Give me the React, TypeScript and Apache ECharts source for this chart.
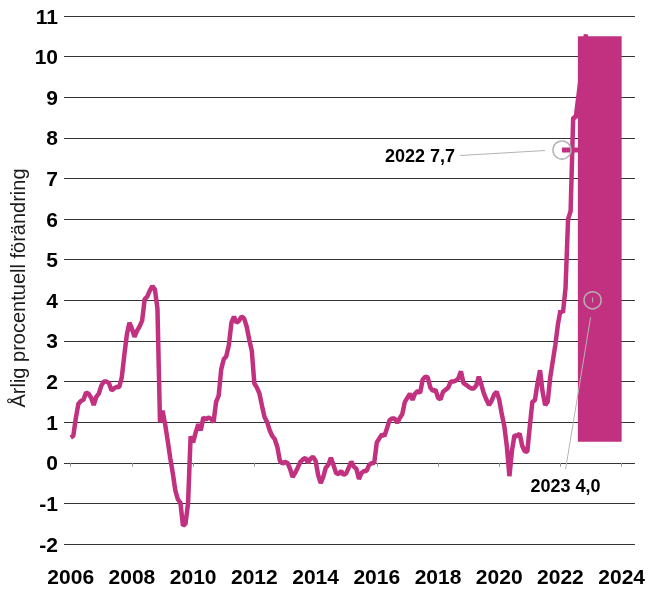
import React, { useEffect, useRef } from "react";
import * as echarts from "echarts";

// Monthly annual % change, starting January 2006
const START_YEAR = 2006;
const inflation = [
  // 2006
  0.62, 0.66, 1.1, 1.45, 1.52, 1.55, 1.73, 1.7, 1.6, 1.42, 1.62, 1.7,
  // 2007
  1.9, 2.0, 2.0, 1.96, 1.78, 1.83, 1.87, 1.86, 2.1, 2.65, 3.15, 3.45,
  // 2008
  3.3, 3.1, 3.25, 3.36, 3.5, 4.03, 4.09, 4.24, 4.35, 4.27, 3.8, 1.0,
  // 2009
  1.28, 0.95, 0.55, 0.12, -0.25, -0.68, -0.9, -0.98, -1.55, -1.5, -1.0, 0.65,
  // 2010
  0.5, 0.75, 0.95, 0.8, 1.12, 1.06, 1.12, 1.08, 1.0, 1.5, 1.65, 2.3,
  // 2011
  2.55, 2.62, 2.9, 3.45, 3.6, 3.45, 3.5, 3.6, 3.55, 3.35, 3.03, 2.75,
  // 2012
  1.95, 1.85, 1.7, 1.4, 1.12, 1.0, 0.8, 0.66, 0.58, 0.39, 0.05, -0.02,
  // 2013
  0.02, 0.0, -0.15, -0.35, -0.25, -0.12, 0.02, 0.08, 0.12, 0.0, 0.1, 0.15,
  // 2014
  0.05, -0.3, -0.5, -0.35, -0.12, -0.05, 0.12, -0.05, -0.25, -0.28, -0.2, -0.3,
  // 2015
  -0.26, -0.12, 0.03, -0.1, -0.15, -0.4, -0.25, -0.2, -0.2, -0.05, -0.01, 0.0,
  // 2016
  0.5, 0.6, 0.7, 0.66, 0.85, 1.05, 1.09, 1.09, 0.98, 1.1, 1.2, 1.5,
  // 2017
  1.6, 1.7, 1.55, 1.7, 1.77, 1.72, 2.05, 2.12, 2.1, 1.85, 1.77, 1.8,
  // 2018
  1.6, 1.56, 1.75, 1.8, 1.85, 2.0, 2.0, 2.02, 2.08, 2.25, 1.96, 1.92,
  // 2019
  1.87, 1.83, 1.83, 1.9, 2.12, 1.92, 1.7, 1.55, 1.42, 1.52, 1.68, 1.75,
  // 2020
  1.55, 1.2, 0.9, 0.4, -0.33, 0.3, 0.68, 0.65, 0.72, 0.42, 0.28, 0.27,
  // 2021
  0.9, 1.5, 1.54, 1.95, 2.28, 1.75, 1.42, 1.5, 2.1, 2.5, 2.9, 3.4,
  // 2022
  3.75, 3.7, 4.3, 6.0, 6.2, 8.5, 8.5, 9.0, 9.5, 10.0, 10.55,
];

const yearTicks = [2006, 2008, 2010, 2012, 2014, 2016, 2018, 2020, 2022, 2024];

// Forecast range: [x start, x end, low, high]
const forecastBand = [[2022.57, 2024.0, 0.52, 10.5]];

// Annual averages
const annualYears = [2022, 2023];
const annualValues = [7.7, 4.0];
const annualLabels = ["2022 7,7", "2023 4,0"];

const PINK = "#C1317F";
const FONT = 'Arial, "Liberation Sans", sans-serif';

export default function App() {
  const ref = useRef<HTMLDivElement>(null);

  useEffect(() => {
    if (!ref.current) return;
    const chart = echarts.init(ref.current, null, { renderer: "svg" });

    const option: any = {
      animation: false,
      grid: { left: 64, right: 13, top: 16, bottom: 45 },
      xAxis: {
        type: "value",
        min: 2005.78,
        max: 2024.434,
        offset: 13,
        axisLine: { show: false },
        splitLine: { show: false },
        axisTick: {
          show: true,
          length: 4,
          customValues: yearTicks,
          lineStyle: { color: "#999", width: 1 },
        },
        axisLabel: {
          customValues: yearTicks,
          margin: 9,
          fontSize: 21,
          fontWeight: "bold",
          fontFamily: FONT,
          color: "#000",
          formatter: (v: number) => String(Math.round(v)),
        },
      },
      yAxis: {
        type: "value",
        min: -2,
        max: 11,
        interval: 1,
        axisLine: { show: false },
        axisTick: { show: false },
        axisLabel: {
          margin: 6,
          fontSize: 21,
          fontWeight: "bold",
          fontFamily: FONT,
          color: "#000",
        },
        splitLine: { show: true, lineStyle: { color: "#333", width: 1 } },
      },
      series: [
        {
          type: "line",
          data: inflation.map((v, i) => [START_YEAR + i / 12, v]),
          showSymbol: false,
          symbol: "none",
          lineStyle: { color: PINK, width: 4.5 },
          z: 2,
        },
        {
          type: "line",
          data: [
            [annualYears[0] + 0.05, annualValues[0]],
            [annualYears[0] + 1, annualValues[0]],
          ],
          showSymbol: false,
          symbol: "none",
          lineStyle: { color: PINK, width: 5 },
          z: 3,
        },
        {
          type: "custom",
          data: forecastBand,
          encode: { x: [0, 1], y: [2, 3] },
          z: 4,
          renderItem: (params: any, api: any) => {
            const p1 = api.coord([api.value(0), api.value(3)]);
            const p2 = api.coord([api.value(1), api.value(2)]);
            return {
              type: "rect",
              shape: { x: p1[0], y: p1[1], width: p2[0] - p1[0], height: p2[1] - p1[1] },
              style: { fill: PINK },
            };
          },
        },
      ],
    };
    chart.setOption(option);

    const c0 = chart.convertToPixel({ gridIndex: 0 }, [annualYears[0] + 0.05, annualValues[0]]);
    const c1 = chart.convertToPixel({ gridIndex: 0 }, [annualYears[1] + 0.05, annualValues[1]]);
    const gray = "#b3b3b3";

    chart.setOption({
      graphic: [
        {
          type: "text",
          x: 18,
          y: 288,
          rotation: Math.PI / 2,
          style: {
            text: "Årlig procentuell förändring",
            fontSize: 20,
            fontFamily: FONT,
            fill: "#1a1a1a",
            textAlign: "center",
            textVerticalAlign: "middle",
          },
        },
        {
          type: "circle",
          shape: { cx: c0[0], cy: c0[1], r: 9 },
          style: { fill: "none", stroke: gray, lineWidth: 1.5 },
          z: 100,
        },
        {
          type: "line",
          shape: { x1: c0[0] - 102, y1: c0[1] + 5.5, x2: c0[0] - 17, y2: c0[1] + 0.5 },
          style: { stroke: gray, lineWidth: 1 },
          z: 100,
        },
        {
          type: "text",
          x: c0[0] - 107,
          y: c0[1] + 6,
          style: {
            text: annualLabels[0],
            fontSize: 18,
            fontWeight: "bold",
            fontFamily: FONT,
            fill: "#000",
            textAlign: "right",
            textVerticalAlign: "middle",
          },
          z: 100,
        },
        {
          type: "circle",
          shape: { cx: c1[0], cy: c1[1], r: 8.5 },
          style: { fill: "none", stroke: gray, lineWidth: 1.5 },
          z: 100,
        },
        {
          type: "line",
          shape: { x1: c1[0], y1: c1[1] - 3, x2: c1[0], y2: c1[1] + 2 },
          style: { stroke: gray, lineWidth: 1 },
          z: 100,
        },
        {
          type: "line",
          shape: { x1: c1[0] - 2, y1: c1[1] + 17, x2: c1[0] - 27, y2: c1[1] + 169 },
          style: { stroke: gray, lineWidth: 1 },
          z: 100,
        },
        {
          type: "text",
          x: c1[0] - 27,
          y: c1[1] + 186,
          style: {
            text: annualLabels[1],
            fontSize: 18,
            fontWeight: "bold",
            fontFamily: FONT,
            fill: "#000",
            textAlign: "center",
            textVerticalAlign: "middle",
          },
          z: 100,
        },
      ],
    });

    return () => chart.dispose();
  }, []);

  return (
    <div
      ref={ref}
      style={{ position: "fixed", left: 0, top: 0, width: 648, height: 589 }}
    />
  );
}
